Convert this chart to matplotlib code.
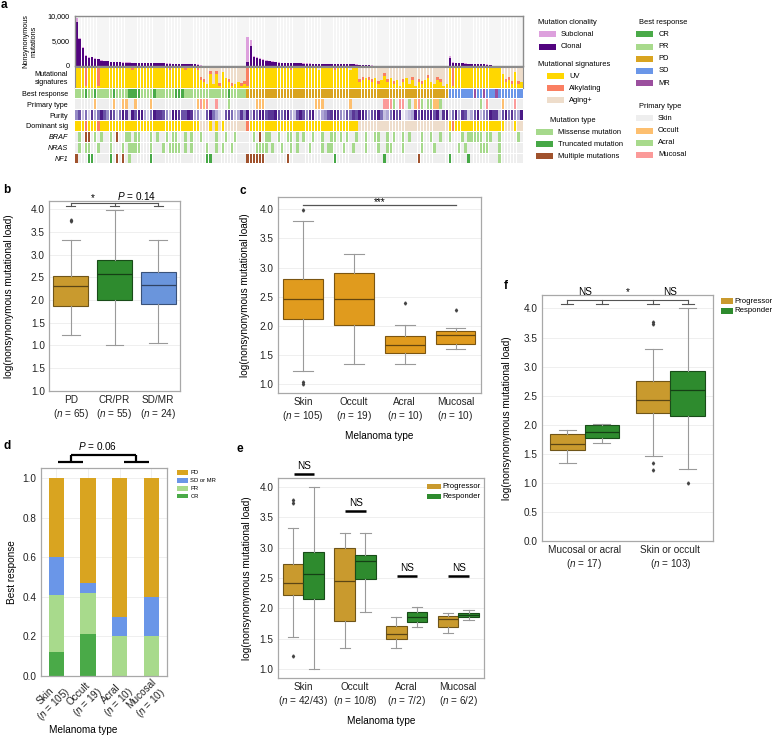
import numpy as np
import matplotlib
matplotlib.use("Agg")
import matplotlib.pyplot as plt
from matplotlib.patches import Rectangle
from matplotlib.colors import LinearSegmentedColormap, to_rgb

plt.rcParams['font.family'] = ['Liberation Sans', 'DejaVu Sans']
plt.rcParams['mathtext.fontset'] = 'custom'
plt.rcParams['mathtext.rm'] = 'Liberation Sans'
plt.rcParams['mathtext.it'] = 'Liberation Sans:italic'

W, H = 772, 736
fig = plt.figure(figsize=(W / 100, H / 100), dpi=100)


def S(s):
    return s.replace(' ', '')


# ---------------------------------------------------------------- data: panel a
clonal_resp = [8900, 5500, 3700, 2000, 1700, 1800, 1500, 1400, 1100, 1000,
               1000, 800, 780, 750, 720, 700, 700, 680, 660, 650,
               630, 620, 600, 600, 580, 560, 550, 540, 520, 500,
               500, 480, 460, 440, 420, 400, 380, 350, 320, 300,
               90, 80, 70, 60, 50, 45, 40, 35, 30, 25,
               20, 15, 10, 8, 5]
subclonal_resp = [700, 150, 150, 300, 150, 100, 100, 80, 60, 50,
                  50, 40, 40, 40, 30, 30, 30, 30, 30, 30,
                  30, 30, 20, 20, 20, 20, 20, 20, 20, 20,
                  20, 20, 20, 20, 20, 20, 20, 20, 20, 20,
                  10, 10, 10, 10, 10, 10, 10, 10, 10, 10,
                  5, 5, 5, 5, 5]
clonal_pd = [800, 4000, 1800, 1600, 1500, 1300, 1100, 950, 850, 800,
             700, 650, 620, 600, 580, 560, 540, 520, 500, 500,
             480, 470, 460, 450, 440, 430, 420, 400, 390, 380,
             370, 360, 350, 340, 320, 300, 280, 250, 220, 200,
             90, 80, 70, 65, 60, 55, 50, 45, 40, 35,
             30, 28, 25, 22, 20, 18, 15, 12, 10, 9,
             8, 6, 5, 4, 3]
subclonal_pd = [5100, 1200, 200, 150, 150, 100, 100, 80, 80, 60,
                50, 50, 40, 40, 40, 30, 30, 30, 30, 30,
                30, 20, 20, 20, 20, 20, 20, 20, 20, 20,
                20, 20, 20, 20, 20, 20, 20, 20, 20, 20,
                10, 10, 10, 10, 10, 10, 10, 10, 10, 10,
                5, 5, 5, 5, 5, 5, 5, 5, 5, 5,
                2, 2, 2, 2, 2]
clonal_sd = [1600, 700, 620, 560, 520, 480, 450, 430, 400, 380,
             350, 330, 300, 260, 80, 60, 50, 40, 30, 25,
             20, 15, 10, 5]
subclonal_sd = [500, 100, 60, 50, 40, 40, 30, 30, 30, 30,
                20, 20, 20, 20, 10, 10, 10, 10, 5, 5,
                5, 5, 5, 5]

# signature fractions (tenths, digit d -> (d+0.5)/10)
uv_resp = "9990999099 9999999989 9999999999 8999989998 3216160742 01201"
alk_resp = "0009000900 0000000010 0000001000 1000010001 1101011001 10011"
uv_pd = "0999999999 9999899999 9998999989 9998992343 2413524130 2413021342 13201"
alk_pd = "9000100000 0001100000 0000100010 0000001101 1010110100 1001011010 01100"
uv_sd = "9099999999 9999999623 1712"
alk_sd = "0900001000 0000010011 1010"

# best response: C=CR P=PR D=PD S=SD M=MR
best_resp = "PPPCPPCPPP PPCPPPPCCC CPPPPCPPPP PPCCCPPPPP PPPPPPPPPC PPPPP"
best_pd = "DDDDDDDDDD DDDDDDDDDD DDDDDDDDDD DDDDDDDDDD DDDDDDDDDD DDDDDDDDDD DDDDD"
best_sd = "SSSSSSSSMS SMSSSMSSSS SSSS"
# primary type: K=skin O=occult A=acral M=mucosal
prim_resp = "KKKKKKOKKK KKOKKOOKKO KKKKOKKKKK KKKKKKKKKO MOMKKMKKKA KKKKK"
prim_pd = "KKKOOOKKKK KKKKKKKKKK KKOOOKKKKK KKKOKKKKKK KKKKMMMAKM MKAKOMAKAA OOAKK"
prim_sd = "KKKKKKKKKK AKMKKKKOKK KMKK"
# purity (1 light .. 9 dark)
pur_resp = "5736284697 5873698297 9942698875 3998779845 2179642178 63485"
pur_pd = "9486997889 7689437975 8923457898 5476879974 7896346978 1234979889 79389"
pur_sd = "3694872479 3569883796 8549"
# dominant signature: U=UV A=alkylating G=aging+
dom_resp = "UUUAUUUAUU UUUUUUUUUU UUUUUUUUUU UUUUUUUUUU GGGUGUGUGG GGGGG"
dom_pd = "AUUUUUUUUU UUUUUUUUUU UUUUUUUUUU UUUUUUGGGG GGGGGGGGGG GGGGGGGGGG GGGGG"
dom_sd = "UAUUUUUUUU UUUUUUUUGG GUGG"
# genes: . none, m missense, t truncated, x multiple
braf_resp = ".m.xx.m.m. .m.x..mm.m m...m.m..m .mm..m.m.. m....m..m. .m..."
braf_pd = "..m.x.mm.. m..mm.m.m. .m..m..mm. m.m..m..m. .mm..m.m.. m.m...m..m ..m.."
braf_sd = "m...m.mmmm m.mm..m... ..m."
nras_resp = ".m.mm..m.. .m...m.mmm m...m...m. mmmm.m.m.. ..m..m.m.. m...."
nras_pd = "...mmmm.m. .m..m.m... m...m.mm.. .m..m...m. ..m..mm... m.....m... m...."
nras_sd = "...m.m.... mmm...m... ...."
nf1_resp = "x...tt.... .t.x.x.m.. ....t..... .......... ..tt...... ....."
nf1_pd = "xxxxxx.... ...x...... ........t. .......... ....t..... .....x.... ....."
nf1_sd = "t.....t... ......m... ...."

# ---------------------------------------------------------------- data: panels b-f
b_labels = ['PD', 'CR/PR', 'SD/MR']
b_n = ['65', '55', '24']
b_q1 = [1.86, 2.00, 1.90]
b_med = [2.30, 2.57, 2.32]
b_q3 = [2.53, 2.89, 2.62]
b_lo = [1.23, 1.00, 1.06]
b_hi = [3.31, 3.98, 3.33]
b_fliers = [[3.73, 3.76], [], []]
b_ytick_labels = ['1.0', '1.5', '1.0', '1.5', '2.0', '2.5', '3.0', '3.5', '4.0']

c_labels = ['Skin', 'Occult', 'Acral', 'Mucosal']
c_n = ['105', '19', '10', '10']
c_q1 = [2.12, 2.01, 1.53, 1.69]
c_med = [2.46, 2.47, 1.67, 1.84]
c_q3 = [2.80, 2.90, 1.83, 1.92]
c_lo = [1.23, 1.34, 1.34, 1.60]
c_hi = [3.80, 3.24, 2.02, 1.97]
c_fliers = [[3.99, 1.04, 1.00], [], [2.39], [2.28]]

d_labels = ['Skin', 'Occult', 'Acral', 'Mucosal']
d_n = ['105', '19', '10', '10']
d_cr = [0.12, 0.21, 0.0, 0.0]
d_pr = [0.29, 0.21, 0.20, 0.20]
d_sdmr = [0.19, 0.05, 0.10, 0.20]
d_pd = [0.40, 0.53, 0.70, 0.60]

e_labels = ['Skin', 'Occult', 'Acral', 'Mucosal']
e_n = ['42/43', '10/8', '7/2', '6/2']
e_prog_q1 = [2.22, 1.79, 1.50, 1.69]
e_prog_med = [2.41, 2.45, 1.57, 1.82]
e_prog_q3 = [2.73, 2.99, 1.70, 1.88]
e_prog_lo = [1.52, 1.34, 1.34, 1.60]
e_prog_hi = [3.32, 3.24, 1.85, 1.92]
e_prog_fliers = [[3.79, 3.74, 1.22], [], [], []]
e_resp_q1 = [2.15, 2.48, 1.77, 1.85]
e_resp_med = [2.57, 2.78, 1.85, 1.89]
e_resp_q3 = [2.93, 2.88, 1.94, 1.93]
e_resp_lo = [1.00, 1.94, 1.69, 1.80]
e_resp_hi = [4.00, 3.25, 2.02, 1.98]
e_resp_fliers = [[], [], [], []]
e_ns_y = [4.21, 3.61, 2.54, 2.54]

f_labels = ['Mucosal or acral', 'Skin or occult']
f_n = ['17', '103']
f_prog_q1 = [1.57, 2.20]
f_prog_med = [1.67, 2.43]
f_prog_q3 = [1.85, 2.76]
f_prog_lo = [1.34, 1.46]
f_prog_hi = [1.92, 3.31]
f_prog_fliers = [[], [3.77, 3.73, 1.34, 1.22]]
f_resp_q1 = [1.78, 2.16]
f_resp_med = [1.88, 2.60]
f_resp_q3 = [1.99, 2.92]
f_resp_lo = [1.69, 1.25]
f_resp_hi = [2.01, 4.00]
f_resp_fliers = [[], [1.00]]

# ---------------------------------------------------------------- colours
C_SUB, C_CLON = '#DDA0DD', '#52047F'
C_UV, C_ALK, C_AGE = '#FFD700', '#FA7F62', '#EEDDCB'
C_MIS, C_TRU, C_MUL = '#A6D98C', '#46A846', '#A0522D'
C_CR, C_PR, C_PD, C_SD, C_MR = '#4AAA48', '#A8DA8C', '#D9A420', '#6A96E8', '#9B4F9E'
C_SKIN, C_OCC, C_ACR, C_MUC = '#EEEEEE', '#FDBF6F', '#A8DA8C', '#FB9A99'
C_NONE = '#EEEEEE'
C_PROG, C_RESP = '#C99A2E', '#2E8B2E'
C_ORANGE = '#E09B1E'
C_B_SD = '#6A95DC'


def axpx(x0, y0, x1, y1):
    return fig.add_axes([x0 / W, 1 - y1 / H, (x1 - x0) / W, (y1 - y0) / H])


def ftext(x, y, s, **kw):
    return fig.text(x / W, 1 - y / H, s, **kw)


def fpatch(x, y, color, w=17, h=6):
    fig.add_artist(Rectangle((x / W, 1 - (y + h / 2) / H), w / W, h / H,
                             transform=fig.transFigure, facecolor=color,
                             edgecolor='none'))


def darker(c, f=0.55):
    r, g, b = to_rgb(c)
    return (r * f, g * f, b * f)


# ---------------------------------------------------------------- panel a
clonal = clonal_resp + clonal_pd + clonal_sd
subclonal = subclonal_resp + subclonal_pd + subclonal_sd
N = len(clonal)
x = np.arange(N)

axA = axpx(75, 16, 523, 66)
axA.bar(x, [10000] * N, width=0.8, color='#F5F5F5', zorder=0)
axA.bar(x, clonal, width=0.8, color=C_CLON, zorder=2)
axA.bar(x, subclonal, bottom=clonal, width=0.8, color=C_SUB, zorder=2)
axA.set_xlim(-0.5, N - 0.5)
axA.set_ylim(0, 10000)
axA.set_xticks([])
axA.set_yticks([0, 5000, 10000])
axA.set_yticklabels(['0', '5,000', '10,000'])
axA.tick_params(axis='y', length=0, labelsize=5.2, pad=4)
for sp in axA.spines.values():
    sp.set_color('#8C8C8C')
    sp.set_linewidth(1.0)
ftext(30, 41, 'Nonsynonymous\nmutations', rotation=90, ha='center', va='center',
      fontsize=5.2, linespacing=1.1)

uv = np.array([(int(c) + 0.5) / 10 for c in S(uv_resp + uv_pd + uv_sd)])
alk = np.array([int(c) / 10 + (0.05 if c != '0' else 0.0) for c in S(alk_resp + alk_pd + alk_sd)])
alk = np.minimum(alk, 1 - uv)
axS = axpx(75, 66.5, 523, 87.5)
axS.bar(x, [1.0] * N, width=0.8, color=C_AGE)
axS.bar(x, uv, width=0.8, color=C_UV)
axS.bar(x, alk, bottom=uv, width=0.8, color=C_ALK)
axS.set_xlim(-0.5, N - 0.5)
axS.set_ylim(0, 1)
axS.set_xticks([])
axS.set_yticks([0.5])
axS.set_yticklabels(['Mutational\nsignatures'], fontsize=5.2, linespacing=1.1)
axS.tick_params(axis='y', length=0, pad=5)
for sp in axS.spines.values():
    sp.set_color('#8C8C8C')
    sp.set_linewidth(0.8)

best_map = {'C': C_CR, 'P': C_PR, 'D': C_PD, 'S': C_SD, 'M': C_MR}
prim_map = {'K': C_SKIN, 'O': C_OCC, 'A': C_ACR, 'M': C_MUC}
dom_map = {'U': C_UV, 'A': C_ALK, 'G': C_AGE}
gene_map = {'.': C_NONE, 'm': C_MIS, 't': C_TRU, 'x': C_MUL}
pur_cmap = LinearSegmentedColormap.from_list('pur', ['#ECEAF4', '#B8B2DA', '#7566B2', '#4A1A86'])

rows = [
    [best_map[c] for c in S(best_resp + best_pd + best_sd)],
    [prim_map[c] for c in S(prim_resp + prim_pd + prim_sd)],
    [pur_cmap((int(c) - 1) / 8) for c in S(pur_resp + pur_pd + pur_sd)],
    [dom_map[c] for c in S(dom_resp + dom_pd + dom_sd)],
    [gene_map[c] for c in S(braf_resp + braf_pd + braf_sd)],
    [gene_map[c] for c in S(nras_resp + nras_pd + nras_sd)],
    [gene_map[c] for c in S(nf1_resp + nf1_pd + nf1_sd)],
]
row_labels = ['Best response', 'Primary type', 'Purity', 'Dominant sig', 'BRAF', 'NRAS', 'NF1']
axR = axpx(75, 88, 523, 164)
for r, cols in enumerate(rows):
    axR.bar(x, [0.9] * N, bottom=r + 0.05, width=0.8, color=cols)
axR.set_xlim(-0.5, N - 0.5)
axR.set_ylim(len(rows), 0)
axR.set_xticks([])
axR.set_yticks(np.arange(len(rows)) + 0.5)
axR.set_yticklabels(row_labels, fontsize=5.2)
for t in axR.get_yticklabels()[4:]:
    t.set_style('italic')
axR.tick_params(axis='y', length=0, pad=5)
for sp in axR.spines.values():
    sp.set_visible(False)

# legends panel a
FS_L = 5.4
ftext(538, 22.7, 'Mutation clonality', fontsize=FS_L, va='center')
for yy, c, t in [(34, C_SUB, 'Subclonal'), (46.7, C_CLON, 'Clonal')]:
    fpatch(539, yy, c)
    ftext(561, yy, t, fontsize=FS_L, va='center')
ftext(538, 64.3, 'Mutational signatures', fontsize=FS_L, va='center')
for yy, c, t in [(76, C_UV, 'UV'), (88.3, C_ALK, 'Alkylating'), (100.3, C_AGE, 'Aging+')]:
    fpatch(547, yy, c)
    ftext(569, yy, t, fontsize=FS_L, va='center')
ftext(550, 120, 'Mutation type', fontsize=FS_L, va='center')
for yy, c, t in [(132.3, C_MIS, 'Missense mutation'), (144, C_TRU, 'Truncated mutation'),
                 (156, C_MUL, 'Multiple mutations')]:
    fpatch(536, yy, c)
    ftext(558.5, yy, t, fontsize=FS_L, va='center')
ftext(639, 23, 'Best response', fontsize=FS_L, va='center')
for yy, c, t in [(34.3, C_CR, 'CR'), (46.7, C_PR, 'PR'), (59, C_PD, 'PD'),
                 (71, C_SD, 'SD'), (83.3, C_MR, 'MR')]:
    fpatch(636, yy, c)
    ftext(658.3, yy, t, fontsize=FS_L, va='center')
ftext(639, 106.7, 'Primary type', fontsize=FS_L, va='center')
for yy, c, t in [(118.3, C_SKIN, 'Skin'), (130.7, C_OCC, 'Occult'), (142.7, C_ACR, 'Acral'),
                 (155, C_MUC, 'Mucosal')]:
    fpatch(636, yy, c)
    ftext(658, yy, t, fontsize=FS_L, va='center')

# ---------------------------------------------------------------- helpers b-f
FS = 7.2
YLAB = 'log(nonsynonymous mutational load)'


def style(ax):
    for sp in ax.spines.values():
        sp.set_color('#A8A8A8')
        sp.set_linewidth(0.9)
    ax.tick_params(length=0, labelsize=FS, colors='#222222', pad=3)
    ax.yaxis.grid(True, color='#EDEDED', lw=0.6)
    ax.set_axisbelow(True)


def boxes(ax, pos, q1, med, q3, lo, hi, fl, colors, width, edge=None):
    st = [dict(q1=a, med=m, q3=b, whislo=l, whishi=h, fliers=f)
          for a, m, b, l, h, f in zip(q1, med, q3, lo, hi, fl)]
    bp = ax.bxp(st, positions=pos, widths=width, capwidths=width * 0.5,
                patch_artist=True, showfliers=True,
                whiskerprops=dict(color='#9A9A9A', lw=0.8),
                capprops=dict(color='#9A9A9A', lw=0.8),
                flierprops=dict(marker='d', markersize=1.6, markerfacecolor='#444444',
                                markeredgecolor='#444444'),
                medianprops=dict(lw=0.9))
    for patch, med_line, c in zip(bp['boxes'], bp['medians'], colors):
        patch.set_facecolor(c)
        patch.set_edgecolor(darker(c) if edge is None else edge)
        patch.set_linewidth(0.8)
        med_line.set_color(darker(c, 0.45))
    return bp


def nlabels(names, ns):
    return [f'{a}\n($\\it{{n}}$ = {b})' for a, b in zip(names, ns)]


# ---------------------------------------------------------------- panel b
ax = axpx(49, 201, 180, 390.7)
style(ax)
boxes(ax, [0, 1, 2], b_q1, b_med, b_q3, b_lo, b_hi, b_fliers, [C_PROG, C_RESP, C_B_SD], 0.8)
ax.set_xlim(-0.5, 2.5)
ax.set_ylim(0.0, 4.18)
ax.set_yticks(np.arange(0, 4.01, 0.5))
ax.set_yticklabels(b_ytick_labels)
ax.set_xticks([0, 1, 2])
ax.set_xticklabels(nlabels(b_labels, b_n), fontsize=FS)
ax.plot([0, 2], [4.146, 4.146], color='#555555', lw=0.8, clip_on=False)
for p in [0, 1, 2]:
    ax.plot([p, p], [4.146, 4.065], color='#555555', lw=0.8)
    ax.plot([p - 0.1, p + 0.1], [4.065, 4.065], color='#555555', lw=0.8)
ax.text(0.5, 4.24, '*', ha='center', va='center', fontsize=FS)
ax.text(1.5, 4.30, '$\\it{P}$ = 0.14', ha='center', va='center', fontsize=FS)
ftext(9, 296, YLAB, rotation=90, ha='center', va='center', fontsize=FS)
ftext(3, 190, 'b', fontweight='bold', fontsize=8.5, va='center')

# ---------------------------------------------------------------- panel c
ax = axpx(277.5, 196.5, 481, 393)
style(ax)
boxes(ax, [0, 1, 2, 3], c_q1, c_med, c_q3, c_lo, c_hi, c_fliers, [C_ORANGE] * 4, 0.78)
ax.set_xlim(-0.5, 3.5)
ax.set_ylim(0.85, 4.22)
ax.set_yticks(np.arange(1.0, 4.01, 0.5))
ax.set_xticks([0, 1, 2, 3])
ax.set_xticklabels(nlabels(c_labels, c_n), fontsize=FS)
ax.set_xlabel('Melanoma type', fontsize=FS, labelpad=6)
ax.plot([0, 3], [4.07, 4.07], color='#555555', lw=0.9)
ax.text(1.5, 4.13, '***', ha='center', va='center', fontsize=FS)
ftext(245, 295, YLAB, rotation=90, ha='center', va='center', fontsize=FS)
ftext(240, 191, 'c', fontweight='bold', fontsize=8.5, va='center')

# ---------------------------------------------------------------- panel d
ax = axpx(40.7, 468, 167, 676)
style(ax)
ax.xaxis.grid(True, color='#EDEDED', lw=0.6)
xd = np.arange(len(d_labels))
bot = np.zeros(len(d_labels))
for vals, c in [(d_cr, C_CR), (d_pr, C_PR), (d_sdmr, C_SD), (d_pd, C_PD)]:
    ax.bar(xd, vals, bottom=bot, width=0.48, color=c)
    bot = bot + np.array(vals)
ax.set_xlim(-0.5, 3.5)
ax.set_ylim(0, 1.05)
ax.set_yticks(np.arange(0, 1.01, 0.2))
ax.set_xticks(xd)
ax.set_xticklabels(nlabels(d_labels, d_n), fontsize=FS, rotation=45, ha='right',
                   rotation_mode='anchor', multialignment='center', linespacing=1.05)
ax.tick_params(axis='x', pad=1)
ftext(83, 730, 'Melanoma type', fontsize=FS, ha='center', va='center')
ax.set_ylabel('Best response', fontsize=FS)
kw = dict(color='black', lw=1.6, clip_on=False, solid_capstyle='butt')
ax.plot([0.05, 0.84], [1.082, 1.082], **kw)
ax.plot([0.45, 0.45], [1.082, 1.116], **kw)
ax.plot([0.45, 2.52], [1.116, 1.116], **kw)
ax.plot([2.52, 2.52], [1.082, 1.116], **kw)
ax.plot([2.14, 2.93], [1.082, 1.082], **kw)
ax.text(1.31, 1.16, '$\\it{P}$ = 0.06', ha='center', va='center', fontsize=FS, clip_on=False)
for yy, c, t in [(472.7, C_PD, 'PD'), (480.5, C_SD, 'SD or MR'), (488.3, C_PR, 'PR'),
                 (496, C_CR, 'CR')]:
    fpatch(177, yy, c, w=11, h=4.5)
    ftext(190.5, yy, t, fontsize=4.2, va='center')
ftext(3, 446, 'd', fontweight='bold', fontsize=8.5, va='center')

# ---------------------------------------------------------------- panel e
ax = axpx(277.7, 478, 484, 678)
style(ax)
pe = np.arange(len(e_labels))
boxes(ax, pe - 0.2, e_prog_q1, e_prog_med, e_prog_q3, e_prog_lo, e_prog_hi, e_prog_fliers,
      [C_PROG] * 4, 0.4)
boxes(ax, pe + 0.2, e_resp_q1, e_resp_med, e_resp_q3, e_resp_lo, e_resp_hi, e_resp_fliers,
      [C_RESP] * 4, 0.4)
ax.set_xlim(-0.5, 3.5)
ax.set_ylim(0.85, 4.15)
ax.set_yticks(np.arange(1.0, 4.01, 0.5))
ax.set_xticks(pe)
ax.set_xticklabels(nlabels(e_labels, e_n), fontsize=FS)
ax.set_xlabel('Melanoma type', fontsize=FS, labelpad=6)
for p, yv in zip(pe, e_ns_y):
    ax.plot([p - 0.19, p + 0.21], [yv, yv], color='black', lw=1.8, clip_on=False,
            solid_capstyle='butt')
    ax.text(p + 0.01, yv + 0.13, 'NS', ha='center', va='center', fontsize=FS, clip_on=False)
for yy, c, t in [(486.7, C_PROG, 'Progressor'), (496.7, C_RESP, 'Responder')]:
    fpatch(426.7, yy, c, w=14, h=5.5)
    ftext(442, yy, t, fontsize=5.6, va='center')
ftext(246.5, 578, YLAB, rotation=90, ha='center', va='center', fontsize=FS)
ftext(237, 449, 'e', fontweight='bold', fontsize=8.5, va='center')

# ---------------------------------------------------------------- panel f
ax = axpx(541.7, 295, 713.3, 541.3)
style(ax)
pf = np.arange(len(f_labels))
boxes(ax, pf - 0.2, f_prog_q1, f_prog_med, f_prog_q3, f_prog_lo, f_prog_hi, f_prog_fliers,
      [C_PROG] * 2, 0.4)
boxes(ax, pf + 0.2, f_resp_q1, f_resp_med, f_resp_q3, f_resp_lo, f_resp_hi, f_resp_fliers,
      [C_RESP] * 2, 0.4)
ax.set_xlim(-0.5, 1.5)
ax.set_ylim(0, 4.23)
ax.set_yticks(np.arange(0, 4.01, 0.5))
ax.set_xticks(pf)
ax.set_xticklabels(nlabels(f_labels, f_n), fontsize=FS)
ax.plot([-0.2, 1.2], [4.14, 4.14], color='#555555', lw=0.8)
for p in [-0.2, 0.2, 0.8, 1.2]:
    ax.plot([p, p], [4.14, 4.07], color='#555555', lw=0.8)
    ax.plot([p - 0.07, p + 0.07], [4.07, 4.07], color='#555555', lw=0.8)
for xx, t in [(0.0, 'NS'), (0.5, '*'), (1.0, 'NS')]:
    ax.text(xx, 4.28, t, ha='center', va='center', fontsize=FS, clip_on=False)
for yy, c, t in [(301, C_PROG, 'Progressor'), (311, C_RESP, 'Responder')]:
    fpatch(721, yy, c, w=12, h=6)
    ftext(734, yy, t, fontsize=5.6, va='center')
ftext(507.5, 418, YLAB, rotation=90, ha='center', va='center', fontsize=FS)
ftext(504, 286, 'f', fontweight='bold', fontsize=8.5, va='center')

ftext(1, 5, 'a', fontweight='bold', fontsize=8.5, va='center')

fig.savefig('out.png', dpi=100)
